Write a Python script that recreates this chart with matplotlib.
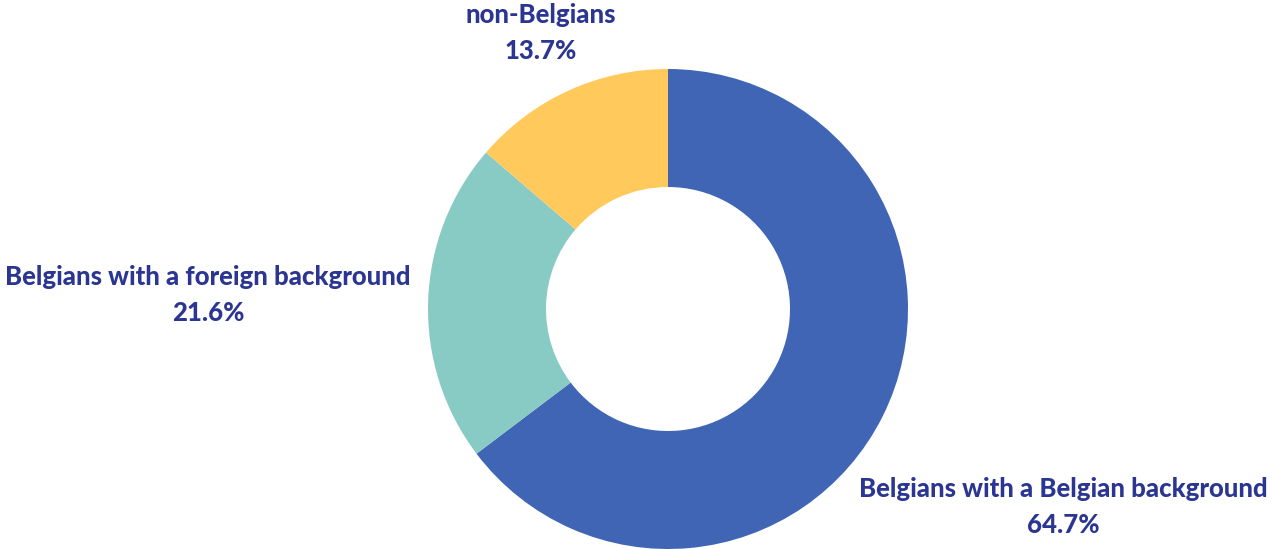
import matplotlib.pyplot as plt

labels = ['Belgians with a Belgian background', 'Belgians with a foreign background', 'non-Belgians']
shares = [64.7, 21.6, 13.7]
colors = ['#4065B4', '#87CBC4', '#FFC95C']
text_color = '#2B3592'

fig = plt.figure(figsize=(12.72, 5.49), dpi=100)
ax = fig.add_axes([0, 0, 1, 1])

ax.pie(shares, colors=colors, startangle=90, counterclock=False,
       center=(668, 240), radius=240, frame=True,
       wedgeprops=dict(width=118, edgecolor='none'))
ax.set_xlim(0, 1272)
ax.set_ylim(0, 549)
ax.set_aspect('equal')
ax.axis('off')

# label positions (pixels, y from bottom)
label_pos = [(1063, 42), (208, 254), (541, 516)]
for lab, val, (x, y) in zip(labels, shares, label_pos):
    ax.text(x, y, f'{lab}\n{val:.1f}%', ha='center', va='center',
            fontsize=18.5, fontweight='black', family='Lato', color=text_color,
            linespacing=1.6)

fig.savefig('out.png', dpi=100)
